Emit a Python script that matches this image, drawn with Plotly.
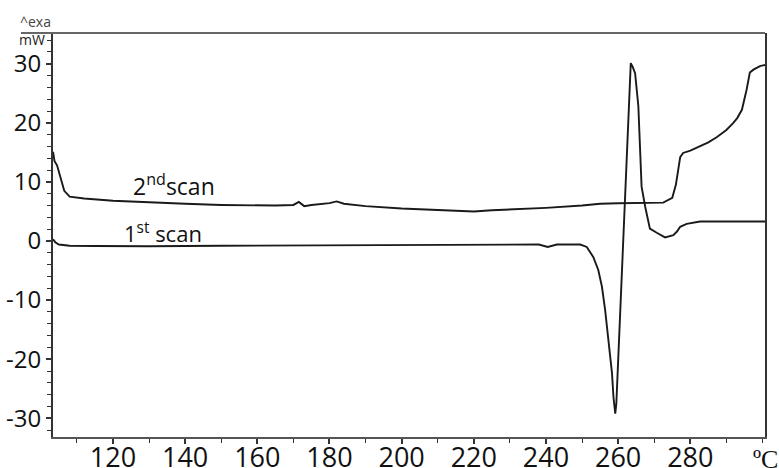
import plotly.graph_objects as go

# ---- data ----
temp_scan2 = [103.4, 103.8, 104.5, 105.5, 106.5, 108, 112, 120, 130, 140, 150, 160, 165, 170,
              171.5, 173, 175, 180, 182, 184, 190, 200, 210, 220, 225, 230, 240, 250, 255, 260,
              265, 270, 272.5, 275, 276, 277.2, 278, 280, 282.7, 285, 287.4, 290, 291.8, 293,
              294.3, 295, 295.6, 296.5, 297.5, 299.3, 300.7]
heat_scan2 = [15.1, 13.5, 12.8, 10.5, 8.5, 7.5, 7.2, 6.8, 6.5, 6.3, 6.1, 6.0, 6.0, 6.1,
              6.6, 5.9, 6.1, 6.4, 6.7, 6.3, 5.9, 5.5, 5.2, 5.0, 5.2, 5.3, 5.6, 6.0, 6.3, 6.4,
              6.4, 6.4, 6.5, 7.3, 9.5, 14.2, 14.9, 15.3, 16.0, 16.7, 17.6, 18.8, 19.9, 20.8,
              22.2, 23.8, 25.6, 28.5, 29.0, 29.6, 29.8]

temp_scan1 = [103.4, 104, 105, 108, 115, 130, 150, 170, 190, 210, 230, 238, 240.5, 243, 248,
              249.5, 251.3, 253.1, 254.5, 255.5, 256.4, 257.3, 258.3, 258.7, 259.2, 259.5,
              261, 262.5, 263.5, 264, 264.7, 265.6, 266.1, 266.5, 267.5, 268.8, 270.7, 273,
              275.3, 276.3, 277.2, 279, 282.7, 290, 300.7]
heat_scan1 = [0.3, -0.2, -0.6, -0.8, -0.85, -0.9, -0.8, -0.75, -0.7, -0.65, -0.6, -0.6, -1.0,
              -0.6, -0.6, -0.6, -1.0, -2.7, -4.9, -7.7, -11.7, -16.8, -22.4, -26.4, -29.2,
              -27.5, -5.0, 18.0, 30.1, 29.5, 28.4, 22.8, 16.0, 9.2, 5.8, 2.1, 1.4, 0.6,
              1.0, 1.6, 2.4, 2.9, 3.3, 3.3, 3.3]

x_tick_vals = [120, 140, 160, 180, 200, 220, 240, 260, 280]
x_tick_text = ["120", "140", "160", "180", "200", "220", "240", "260", "280"]
y_tick_vals = [-30, -20, -10, 0, 10, 20, 30]
y_tick_text = ["-30", "-20", "-10", "0", "10", "20", "30"]

X_RANGE = [103.38, 300.7]
Y_RANGE = [-33.17, 35.2]

LINE = "#1a1a1a"
FONT = "Open Sans"
NARROW = "Liberation Sans Narrow, Arial Narrow, Open Sans"

fig = go.Figure()
fig.add_trace(go.Scatter(x=temp_scan2, y=heat_scan2, mode="lines",
                         line=dict(color=LINE, width=1.9), name="2nd scan"))
fig.add_trace(go.Scatter(x=temp_scan1, y=heat_scan1, mode="lines",
                         line=dict(color=LINE, width=1.9), name="1st scan"))

fig.update_layout(
    width=779, height=468,
    margin=dict(l=53, r=14, t=33, b=31, autoexpand=False),
    paper_bgcolor="white", plot_bgcolor="white",
    showlegend=False,
    font=dict(family=FONT, color="#111", size=22),
)
fig.update_xaxes(
    range=X_RANGE, showgrid=False, zeroline=False, automargin=False,
    showline=True, linecolor="#555", linewidth=2,
    tickmode="array", tickvals=x_tick_vals, ticktext=x_tick_text,
    ticks="outside", ticklen=5, tickwidth=1.5, tickcolor="#333",
    minor=dict(dtick=10, tick0=110, ticks="outside", ticklen=4, tickwidth=1.2, tickcolor="#333"),
    tickfont=dict(family=NARROW, size=27, color="#111"),
    ticklabelstandoff=-9,
)
fig.update_yaxes(
    range=Y_RANGE, showgrid=False, zeroline=False, automargin=False,
    showline=True, linecolor="#333", linewidth=2, mirror=True,
    tickmode="array", tickvals=y_tick_vals, ticktext=y_tick_text,
    ticks="outside", ticklen=5, tickwidth=1.5, tickcolor="#333",
    minor=dict(dtick=2, tick0=0, ticks="outside", ticklen=4, tickwidth=1.2, tickcolor="#333"),
    tickfont=dict(family=FONT, size=24, color="#111"),
)

# top frame line extending to the left
fig.add_shape(type="line", xref="paper", yref="paper", x0=-0.045, x1=1, y0=1, y1=1,
              line=dict(color="#666", width=2))

fig.add_annotation(x=125.0, y=9.4, xref="x", yref="y", xanchor="left", yanchor="middle",
                   text="2<sup>nd</sup>scan", showarrow=False,
                   font=dict(family=FONT, size=23, color="#111"))
fig.add_annotation(x=122.6, y=1.5, xref="x", yref="y", xanchor="left", yanchor="middle",
                   text="1<sup>st</sup> scan", showarrow=False,
                   font=dict(family=FONT, size=22, color="#111"))

fig.add_annotation(x=1.0, y=-0.014, xref="paper", yref="paper", xanchor="center", yanchor="top",
                   text="ºC", showarrow=False,
                   font=dict(family="Liberation Serif", size=26, color="#111"))
fig.add_annotation(x=-0.0295, y=0.985, xref="paper", yref="paper", xanchor="center", yanchor="middle",
                   text="mW", showarrow=False,
                   font=dict(family=FONT, size=14, color="#222"))
fig.add_annotation(x=-0.049, y=1.0, xref="paper", yref="paper", xanchor="left", yanchor="bottom",
                   text="^exa", showarrow=False,
                   font=dict(family=FONT, size=14, color="#444"))

fig.write_html("out.html")
